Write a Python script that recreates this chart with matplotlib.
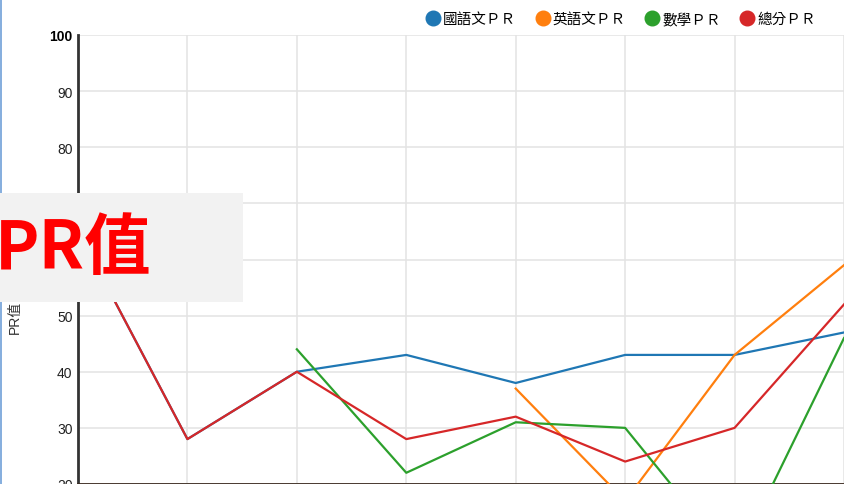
import numpy as np
import matplotlib.pyplot as plt
from matplotlib.lines import Line2D
from matplotlib.patches import Rectangle

plt.rcParams['font.family'] = ['Liberation Sans', 'Noto Sans CJK TC', 'DejaVu Sans']

# exam index (category labels are cropped out of the picture)
exams = [0, 1, 2, 3, 4, 5, 6, 7]
nan = np.nan
chinese_pr = [65, 28, 40, 43, 38, 43, 43, 47]
english_pr = [nan, nan, nan, nan, 37, 17, 43, 59]
math_pr = [nan, nan, 44, 22, 31, 30, 6, 46]
total_pr = [65, 28, 40, 28, 32, 24, 30, 52]

series_names = ['國語文ＰＲ', '英語文ＰＲ', '數學ＰＲ', '總分ＰＲ']
series_colors = ['#1f77b4', '#ff7f0e', '#2ca02c', '#d62728']
y_ticks = [20, 30, 40, 50, 60, 70, 80, 90, 100]

W, H = 844, 485
fig = plt.figure(figsize=(W / 100, H / 100), dpi=100)
step = 109.7
ax = fig.add_axes([78 / W, 0, (W - 78) / W, (H - 36) / H])

for vals, col in zip([chinese_pr, english_pr, math_pr, total_pr], series_colors):
    ax.plot(exams, vals, color=col, lw=1.6, zorder=3)

ax.set_xlim(0, (W - 78) / step)
ax.set_ylim(20, 100)
ax.set_yticks(y_ticks)
ax.set_yticklabels([str(v) for v in y_ticks], fontsize=10, color='#222222')
ax.get_yticklabels()[-1].set_fontweight('bold')
ax.get_yticklabels()[-1].set_color('black')
ax.set_xticks(exams)
ax.set_xticklabels([])
ax.tick_params(length=0, pad=4)
ax.grid(True, color='#e3e3e3', lw=1.1)
ax.set_axisbelow(True)
for s in ['top', 'right']:
    ax.spines[s].set_visible(False)
ax.spines['left'].set_color('#333333')
ax.spines['left'].set_linewidth(2)
ax.spines['bottom'].set_color('#3a2a20')
ax.spines['bottom'].set_linewidth(2)

# y-axis title
fig.text(15 / W, 1 - 317 / H, 'PR值', rotation=90, ha='center', va='center',
         fontsize=10, color='#333333', family=['Liberation Sans', 'Noto Sans CJK TC'])

# legend
handles = [Line2D([], [], marker='o', ls='none', color=c, markersize=10.5) for c in series_colors]
fig.legend(handles, series_names, loc='upper right', bbox_to_anchor=(829 / W, 1.0),
           ncol=4, frameon=False, handletextpad=0.2, columnspacing=1.3,
           prop={'family': ['Noto Sans CJK TC'], 'size': 10.5}, handlelength=1.0)

# thin border on the left edge
fig.add_artist(Line2D([1 / W, 1 / W], [0, 1], color='#6f9fd8', lw=1.2,
                      transform=fig.transFigure))

# overlay box
fig.add_artist(Rectangle((0, 1 - 303 / H), 243 / W, 109 / H, transform=fig.transFigure,
                         facecolor='#f2f2f2', edgecolor='none', zorder=10))
fig.text(-5 / W, 1 - 250 / H, 'PR值', ha='left', va='center', fontsize=48,
         fontweight='bold', color='#ff0000', zorder=11,
         family=['Noto Sans CJK TC'])

fig.savefig('out.png', dpi=100)
